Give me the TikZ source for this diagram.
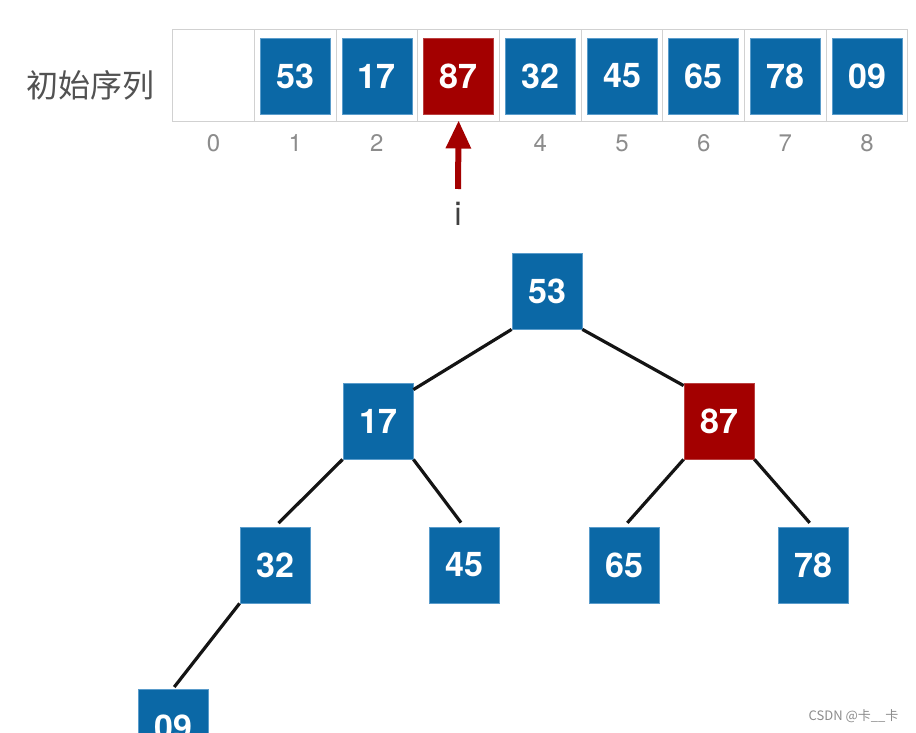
\documentclass[tikz,border=0pt]{standalone}
\usepackage{fontspec}
\setmainfont{TeX Gyre Heros}
\newfontfamily\cjk{Noto Sans CJK SC}
\usetikzlibrary{arrows.meta}
\definecolor{nblue}{HTML}{0B68A6}
\definecolor{nred}{HTML}{A30000}
\definecolor{nedge}{HTML}{5A9CCB}
\begin{document}
\begin{tikzpicture}[x=1pt,y=-1pt,
  sq/.style={rectangle, minimum width=70pt, minimum height=76pt, inner sep=0pt,
    text=white, font=\fontsize{34}{34}\selectfont\bfseries, fill=nblue, draw=nedge, line width=0.8pt},
  redsq/.style={sq, fill=nred, draw=nred!75!white},
  cell/.style={rectangle, minimum width=81.7pt, minimum height=92pt, draw=black!18, line width=1pt, inner sep=0pt},
  idx/.style={text=black!45, font=\fontsize{24}{24}\selectfont},
  treeedge/.style={line width=3.2pt, draw=black!92}]
\path[use as bounding box, clip] (0,0) rectangle (916,733);
% array
\foreach \i in {0,...,8} \node[cell] (c\i) at ({213.5+81.7*\i},76) {};
\node[sq] (a1) at (c1) {53};
\node[sq] (a2) at (c2) {17};
\node[redsq] (a3) at (c3) {87};
\node[sq] (a4) at (c4) {32};
\node[sq] (a5) at (c5) {45};
\node[sq] (a6) at (c6) {65};
\node[sq] (a7) at (c7) {78};
\node[sq] (a8) at (c8) {09};
\foreach \i in {0,1,2,4,5,6,7,8} \node[idx] (n\i) at ({213.5+81.7*\i},143) {\i};
\node[font=\cjk\fontsize{32}{32}\selectfont, text=black!68] (lab) at (91,85) {初始序列};
% pointer
\node[font=\fontsize{33}{33}\selectfont, text=black!75] (ilab) at (458,214) {i};
\coordinate (tail) at (458,189);
\draw[-{Triangle[width=24pt,length=28pt]}, line width=6pt, nred, shorten >=-2pt] (tail) -- (c3.south);
% tree
\node[sq] (t53) at (547,291) {53};
\node[sq] (t17) at (378,421) {17};
\node[redsq] (t87) at (719,421) {87};
\node[sq] (t32) at (275,565) {32};
\node[sq] (t45) at (464,565) {45};
\node[sq] (t65) at (624,565) {65};
\node[sq] (t78) at (813,565) {78};
\node[sq] (t09) at (173,727) {09};
\draw[treeedge] (t53.south west) -- ([yshift=-7pt]t17.north east);
\draw[treeedge] (t53.south east) -- ([yshift=-3pt]t87.north west);
\draw[treeedge, shorten >=5pt] (t17.south west) -- (t32.north);
\draw[treeedge, shorten >=5pt] (t17.south east) -- (t45.north);
\draw[treeedge, shorten >=5pt] (t87.south west) -- (t65.north);
\draw[treeedge, shorten >=5pt] (t87.south east) -- (t78.north);
\draw[treeedge, shorten >=2pt] (t32.south west) -- (t09.north);
% watermark
\node[font=\cjk\fontsize{13}{13}\selectfont, text=black!45, anchor=east] (wm) at (902,716) {CSDN @卡\_\_卡};
\end{tikzpicture}
\end{document}
